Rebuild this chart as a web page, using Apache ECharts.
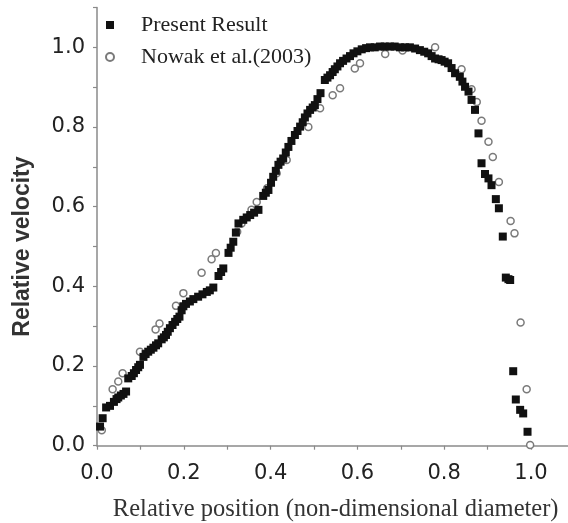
<!DOCTYPE html>
<html>
<head>
<meta charset="utf-8">
<script src="https://cdn.jsdelivr.net/npm/echarts@6/dist/echarts.min.js"></script>
<style>
html,body{margin:0;padding:0;background:#fff;}
#chart{width:568px;height:523px;}
</style>
</head>
<body>
<div id="chart"></div>
<script>
// Series names
const seriesNames = ['Present Result', 'Nowak et al.(2003)'];

// Present Result: [relative position, relative velocity]
const presentResult = [
[0.007,0.048],[0.013,0.069],[0.021,0.096],[0.03,0.1],[0.039,0.11],[0.045,0.117],[0.049,0.121],
[0.055,0.126],[0.061,0.13],[0.067,0.136],[0.072,0.169],[0.08,0.175],[0.085,0.182],[0.09,0.19],
[0.095,0.197],[0.099,0.203],[0.107,0.223],[0.112,0.23],[0.118,0.236],[0.124,0.241],[0.13,0.246],
[0.136,0.252],[0.141,0.257],[0.149,0.267],[0.154,0.272],[0.159,0.278],[0.163,0.286],[0.168,0.295],
[0.174,0.303],[0.18,0.311],[0.185,0.318],[0.19,0.324],[0.195,0.34],[0.199,0.35],[0.205,0.356],
[0.214,0.362],[0.222,0.368],[0.233,0.374],[0.243,0.38],[0.253,0.386],[0.26,0.39],[0.268,0.397],
[0.28,0.426],[0.286,0.436],[0.291,0.445],[0.303,0.484],[0.308,0.497],[0.314,0.512],[0.32,0.535],
[0.326,0.558],[0.337,0.567],[0.345,0.573],[0.353,0.579],[0.362,0.585],[0.372,0.592],[0.383,0.627],
[0.389,0.635],[0.395,0.642],[0.401,0.66],[0.406,0.675],[0.412,0.69],[0.418,0.705],[0.423,0.713],
[0.429,0.721],[0.435,0.736],[0.441,0.75],[0.448,0.765],[0.456,0.78],[0.462,0.79],[0.468,0.801],
[0.474,0.812],[0.479,0.824],[0.485,0.834],[0.491,0.843],[0.497,0.849],[0.502,0.855],[0.508,0.87],
[0.515,0.885],[0.525,0.918],[0.531,0.924],[0.537,0.93],[0.543,0.938],[0.548,0.945],[0.554,0.952],
[0.56,0.96],[0.567,0.966],[0.575,0.972],[0.583,0.978],[0.591,0.985],[0.6,0.99],[0.61,0.995],
[0.62,0.998],[0.629,1.0],[0.64,1.0],[0.652,1.002],[0.663,1.002],[0.675,1.002],[0.686,1.002],
[0.698,1.0],[0.71,1.0],[0.721,1.0],[0.733,0.997],[0.744,0.993],[0.754,0.989],[0.763,0.985],
[0.771,0.978],[0.779,0.972],[0.787,0.97],[0.794,0.968],[0.801,0.964],[0.809,0.96],[0.817,0.948],
[0.825,0.935],[0.836,0.926],[0.842,0.914],[0.848,0.901],[0.856,0.889],[0.863,0.868],[0.871,0.843],
[0.879,0.784],[0.886,0.709],[0.894,0.682],[0.902,0.671],[0.909,0.654],[0.919,0.619],[0.926,0.596],
[0.935,0.525],[0.942,0.422],[0.948,0.418],[0.952,0.416],[0.959,0.187],[0.965,0.116],[0.975,0.09],
[0.982,0.081],[0.992,0.035]
];

// Nowak et al. (2003): [relative position, relative velocity]
const nowak2003 = [
[0.011,0.039],[0.036,0.142],[0.049,0.161],[0.059,0.182],[0.099,0.236],[0.135,0.292],[0.144,0.307],
[0.182,0.351],[0.199,0.383],[0.241,0.434],[0.264,0.468],[0.274,0.484],[0.323,0.537],[0.333,0.558],
[0.356,0.592],[0.368,0.612],[0.392,0.646],[0.414,0.684],[0.437,0.717],[0.487,0.8],[0.514,0.847],
[0.543,0.88],[0.56,0.897],[0.594,0.947],[0.606,0.96],[0.664,0.983],[0.704,0.992],[0.779,1.0],
[0.84,0.945],[0.863,0.895],[0.875,0.863],[0.886,0.816],[0.902,0.763],[0.912,0.725],[0.926,0.662],
[0.953,0.564],[0.962,0.533],[0.976,0.309],[0.99,0.142],[0.998,0.002]
];

// Axis settings
const xAxisTitle = 'Relative position (non-dimensional diameter)';
const yAxisTitle = 'Relative velocity';
const xRange = [0, 1.1];
const yRange = [0, 1.1];
const tickStep = 0.1;

const chart = echarts.init(document.getElementById('chart'), null, {renderer: 'canvas'});

const evenLabel = v => (Math.round(v * 10) % 2 === 0 && v <= 1.0001) ? v.toFixed(1) : '';

const axisLineStyle = {show: true, lineStyle: {color: '#8a8a8a', width: 1.5}};
const axisTickStyle = {show: true, inside: false, length: 4, lineStyle: {color: '#8a8a8a', width: 1.2}};
const labelFont = {fontFamily: 'DejaVu Sans', fontSize: 21, color: '#222'};

chart.setOption({
  animation: false,
  backgroundColor: '#ffffff',
  grid: {left: 97, width: 477.4, top: 7.5, height: 438.2, containLabel: false, outerBoundsMode: 'none'},
  legend: {
    orient: 'vertical',
    left: 100,
    top: 9,
    itemWidth: 8,
    itemHeight: 8,
    itemGap: 10,
    data: [
      {name: seriesNames[0], icon: 'rect'},
      {name: seriesNames[1], icon: 'circle'}
    ],
    textStyle: {
      fontFamily: 'Liberation Serif',
      fontSize: 22,
      color: '#222',
      padding: [0, 0, 0, 22]
    }
  },
  xAxis: {
    type: 'value',
    interval: tickStep,
    min: xRange[0], max: xRange[1],
    splitLine: {show: false},
    axisLine: axisLineStyle,
    axisTick: axisTickStyle,
    axisLabel: Object.assign({formatter: evenLabel, margin: 17}, labelFont),
    name: xAxisTitle,
    nameLocation: 'middle',
    nameGap: 51,
    nameTextStyle: {fontFamily: 'Liberation Serif', fontSize: 24.5, color: '#333'}
  },
  yAxis: {
    type: 'value',
    interval: tickStep,
    min: yRange[0], max: yRange[1],
    splitLine: {show: false},
    axisLine: axisLineStyle,
    axisTick: axisTickStyle,
    axisLabel: Object.assign({formatter: evenLabel, margin: 12}, labelFont),
    name: yAxisTitle,
    nameLocation: 'middle',
    nameGap: 63,
    nameTextStyle: {fontFamily: 'Liberation Sans', fontSize: 23, fontWeight: 'bold', color: '#333', padding: [0, 40, 0, 0]}
  },
  series: [
    {
      name: seriesNames[0],
      type: 'scatter',
      symbol: 'rect',
      symbolSize: 8,
      data: presentResult,
      itemStyle: {color: '#111', opacity: 1},
      z: 3
    },
    {
      name: seriesNames[1],
      type: 'scatter',
      symbol: 'circle',
      symbolSize: 7,
      data: nowak2003,
      itemStyle: {color: '#ffffff', borderColor: '#7a7a7a', borderWidth: 1.5, opacity: 1},
      z: 2
    }
  ]
});
</script>
</body>
</html>
